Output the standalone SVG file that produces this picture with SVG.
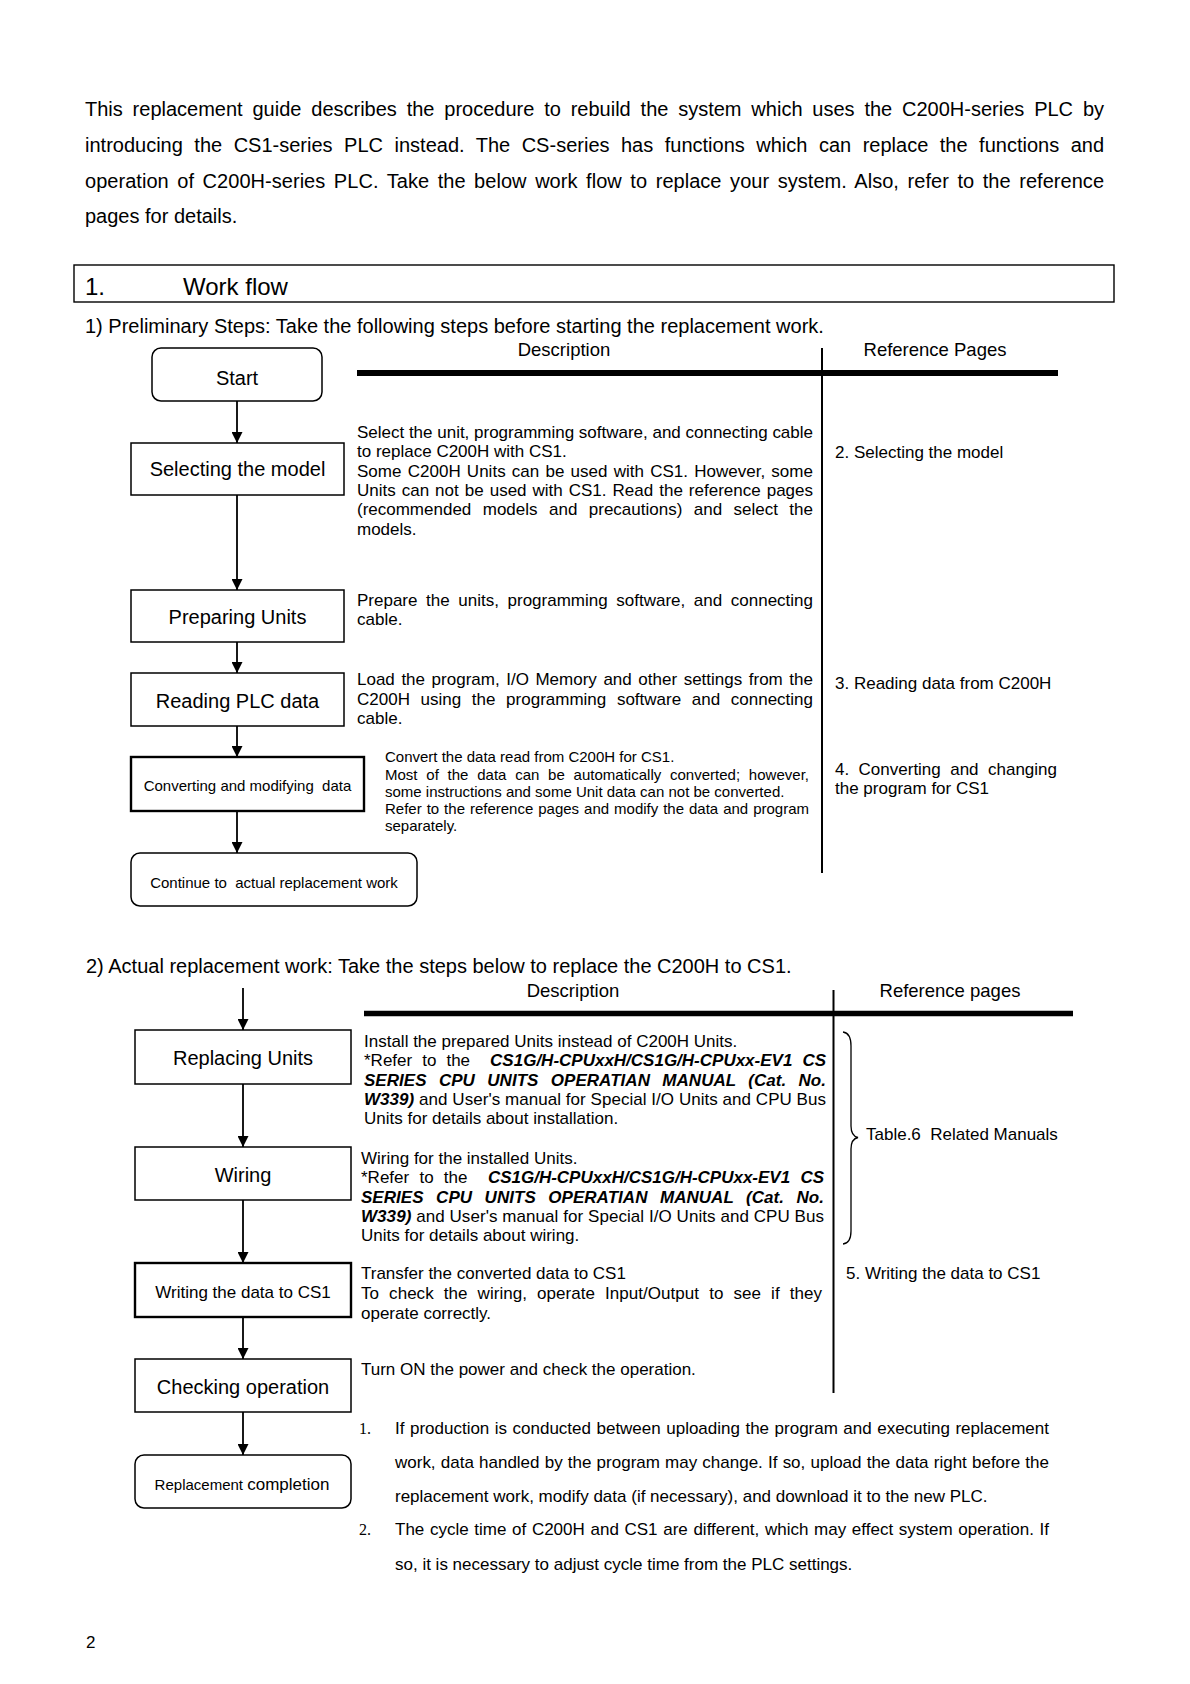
<svg xmlns="http://www.w3.org/2000/svg" width="1190" height="1684" viewBox="0 0 1190 1684">
<style>
text{font-family:"Liberation Sans",Arial,sans-serif;fill:#000}
.p{font-size:20px}
.h{font-size:24px}
.hd{font-size:18.5px}
.d{font-size:17px}
.s{font-size:15px}
.n{font-size:20px;text-anchor:middle}
.bi{font-weight:bold;font-style:italic}
.box{fill:#fff;stroke:#000;stroke-width:1.5}
.tbox{fill:#fff;stroke:#000;stroke-width:2.4}
.ln{stroke:#000;stroke-width:1.8;fill:none}
.serif{font-family:"Liberation Serif","Times New Roman",serif;font-size:16px}
</style>
<defs>
<marker id="ah" markerUnits="userSpaceOnUse" markerWidth="11" markerHeight="11" refX="11" refY="5.5" orient="auto">
<path d="M0,0 L11,5.5 L0,11 z" fill="#000"/>
</marker>
</defs>
<rect width="1190" height="1684" fill="#fff"/>

<g id="intro">
<text class="p" x="85" y="116" word-spacing="4.28" textLength="1019" lengthAdjust="spacing">This replacement guide describes the procedure to rebuild the system which uses the C200H-series PLC by</text>
<text class="p" x="85" y="152" word-spacing="5.93" textLength="1019" lengthAdjust="spacing">introducing the CS1-series PLC instead. The CS-series has functions which can replace the functions and</text>
<text class="p" x="85" y="188" word-spacing="2.99" textLength="1019" lengthAdjust="spacing">operation of C200H-series PLC. Take the below work flow to replace your system. Also, refer to the reference</text>
<text class="p" x="85" y="223">pages for details.</text>
</g>

<g id="title">
<rect x="74" y="265" width="1040" height="37" fill="none" stroke="#000" stroke-width="1.4"/>
<text class="h" x="85" y="295">1.</text>
<text class="h" x="183" y="295">Work flow</text>
</g>

<g id="section1-table">
<text class="p" x="85" y="333">1) Preliminary Steps: Take the following steps before starting the replacement work.</text>
<text class="hd" x="564" y="356" text-anchor="middle">Description</text>
<text class="hd" x="935" y="356" text-anchor="middle">Reference Pages</text>
<line x1="357" y1="373" x2="1058" y2="373" stroke="#000" stroke-width="6"/>
<line x1="822" y1="348" x2="822" y2="873" stroke="#000" stroke-width="2"/>

<text class="d" x="357" y="438" textLength="456" lengthAdjust="spacing">Select the unit, programming software, and connecting cable</text>
<text class="d" x="357" y="457.3">to replace C200H with CS1.</text>
<text class="d" x="357" y="476.6" word-spacing="1.43" textLength="456" lengthAdjust="spacing">Some C200H Units can be used with CS1. However, some</text>
<text class="d" x="357" y="496" word-spacing="1.28" textLength="456" lengthAdjust="spacing">Units can not be used with CS1. Read the reference pages</text>
<text class="d" x="357" y="515.3" word-spacing="6.72" textLength="456" lengthAdjust="spacing">(recommended models and precautions) and select the</text>
<text class="d" x="357" y="534.6">models.</text>
<text class="d" x="835" y="458">2. Selecting the model</text>

<text class="d" x="357" y="606" word-spacing="3.87" textLength="456" lengthAdjust="spacing">Prepare the units, programming software, and connecting</text>
<text class="d" x="357" y="625">cable.</text>

<text class="d" x="357" y="685" word-spacing="1.85" textLength="456" lengthAdjust="spacing">Load the program, I/O Memory and other settings from the</text>
<text class="d" x="357" y="704.5" word-spacing="5.92" textLength="456" lengthAdjust="spacing">C200H using the programming software and connecting</text>
<text class="d" x="357" y="724">cable.</text>
<text class="d" x="835" y="689">3. Reading data from C200H</text>

<text class="s" x="385" y="762">Convert the data read from C200H for CS1.</text>
<text class="s" x="385" y="780" word-spacing="4.54" textLength="424" lengthAdjust="spacing">Most of the data can be automatically converted; however,</text>
<text class="s" x="385" y="797">some instructions and some Unit data can not be converted.</text>
<text class="s" x="385" y="814" word-spacing="0.79" textLength="424" lengthAdjust="spacing">Refer to the reference pages and modify the data and program</text>
<text class="s" x="385" y="831">separately.</text>
<text class="d" x="835" y="775" word-spacing="4.7" textLength="222" lengthAdjust="spacing">4. Converting and changing</text>
<text class="d" x="835" y="793.5">the program for CS1</text>
</g>

<g id="connectors">
<line class="ln" x1="237" y1="401" x2="237" y2="443" marker-end="url(#ah)"/>
<line class="ln" x1="237" y1="495" x2="237" y2="590" marker-end="url(#ah)"/>
<line class="ln" x1="237" y1="642" x2="237" y2="673" marker-end="url(#ah)"/>
<line class="ln" x1="237" y1="726" x2="237" y2="757" marker-end="url(#ah)"/>
<line class="ln" x1="237" y1="811" x2="237" y2="853" marker-end="url(#ah)"/>
<line class="ln" x1="243" y1="988" x2="243" y2="1030" marker-end="url(#ah)"/>
<line class="ln" x1="243" y1="1084" x2="243" y2="1147" marker-end="url(#ah)"/>
<line class="ln" x1="243" y1="1200" x2="243" y2="1263" marker-end="url(#ah)"/>
<line class="ln" x1="243" y1="1317" x2="243" y2="1359" marker-end="url(#ah)"/>
<line class="ln" x1="243" y1="1412" x2="243" y2="1455" marker-end="url(#ah)"/>
</g>

<g id="node-start">
<rect class="box" x="152" y="348" width="170" height="53" rx="9"/>
<text class="n" x="237" y="385">Start</text>
</g>
<g id="node-selecting">
<rect class="box" x="131" y="443" width="213" height="52"/>
<text class="n" x="237.5" y="476">Selecting the model</text>
</g>
<g id="node-preparing">
<rect class="box" x="131" y="590" width="213" height="52"/>
<text class="n" x="237.5" y="624">Preparing Units</text>
</g>
<g id="node-reading">
<rect class="box" x="131" y="673" width="213" height="53"/>
<text class="n" x="237.5" y="708">Reading PLC data</text>
</g>
<g id="node-converting">
<rect class="tbox" x="131" y="757" width="233" height="54"/>
<text class="s" x="247.5" y="791" text-anchor="middle" xml:space="preserve">Converting and modifying  data</text>
</g>
<g id="node-continue">
<rect class="box" x="131" y="853" width="286" height="53" rx="9"/>
<text class="s" x="274" y="888" text-anchor="middle" xml:space="preserve">Continue to  actual replacement work</text>
</g>

<g id="section2-table">
<text class="p" x="86" y="973">2) Actual replacement work: Take the steps below to replace the C200H to CS1.</text>
<text class="hd" x="573" y="997" text-anchor="middle">Description</text>
<text class="hd" x="950" y="997" text-anchor="middle">Reference pages</text>
<line x1="364" y1="1013.5" x2="1073" y2="1013.5" stroke="#000" stroke-width="5.5"/>
<line x1="833.5" y1="990" x2="833.5" y2="1393" stroke="#000" stroke-width="2"/>

<text class="d" x="364" y="1047">Install the prepared Units instead of C200H Units.</text>
<text class="d" x="364" y="1066" word-spacing="5.3" textLength="462" lengthAdjust="spacing" xml:space="preserve">*Refer to the  <tspan class="bi">CS1G/H-CPUxxH/CS1G/H-CPUxx-EV1 CS</tspan></text>
<text class="d bi" x="364" y="1085.5" word-spacing="7.58" textLength="462" lengthAdjust="spacing">SERIES CPU UNITS OPERATIAN MANUAL (Cat. No.</text>
<text class="d" x="364" y="1105" textLength="462" lengthAdjust="spacing"><tspan class="bi">W339)</tspan> and User's manual for Special I/O Units and CPU Bus</text>
<text class="d" x="364" y="1124">Units for details about installation.</text>

<text class="d" x="361" y="1164">Wiring for the installed Units.</text>
<text class="d" x="361" y="1183" word-spacing="5.5" textLength="463" lengthAdjust="spacing" xml:space="preserve">*Refer to the  <tspan class="bi">CS1G/H-CPUxxH/CS1G/H-CPUxx-EV1 CS</tspan></text>
<text class="d bi" x="361" y="1202.5" word-spacing="7.75" textLength="463" lengthAdjust="spacing">SERIES CPU UNITS OPERATIAN MANUAL (Cat. No.</text>
<text class="d" x="361" y="1222" textLength="463" lengthAdjust="spacing"><tspan class="bi">W339)</tspan> and User's manual for Special I/O Units and CPU Bus</text>
<text class="d" x="361" y="1241">Units for details about wiring.</text>

<path d="M843,1032 Q851,1033 851,1046 L851,1126 Q851,1136 858,1137.5 Q851,1139 851,1149 L851,1231 Q851,1243 843,1244" fill="none" stroke="#000" stroke-width="1.3"/>
<text class="d" x="866" y="1140" xml:space="preserve">Table.6  Related Manuals</text>

<text class="d" x="361" y="1279">Transfer the converted data to CS1</text>
<text class="d" x="361" y="1299" word-spacing="5.34" textLength="461" lengthAdjust="spacing">To check the wiring, operate Input/Output to see if they</text>
<text class="d" x="361" y="1319">operate correctly.</text>
<text class="d" x="846" y="1279">5. Writing the data to CS1</text>

<text class="d" x="361" y="1375">Turn ON the power and check the operation.</text>
</g>

<g id="node-replacing">
<rect class="box" x="135" y="1030" width="216" height="54"/>
<text class="n" x="243" y="1065">Replacing Units</text>
</g>
<g id="node-wiring">
<rect class="box" x="135" y="1147" width="216" height="53"/>
<text class="n" x="243" y="1182">Wiring</text>
</g>
<g id="node-writing">
<rect class="tbox" x="135" y="1263" width="216" height="54"/>
<text x="243" y="1298" font-size="17" text-anchor="middle">Writing the data to CS1</text>
</g>
<g id="node-checking">
<rect class="box" x="135" y="1359" width="216" height="53"/>
<text class="n" x="243" y="1394">Checking operation</text>
</g>
<g id="node-completion">
<rect class="box" x="135" y="1455" width="216" height="53" rx="9"/>
<text x="242" y="1490" text-anchor="middle"><tspan font-size="15">Replacement </tspan><tspan font-size="17">completion</tspan></text>
</g>

<g id="notes">
<text class="serif" x="359" y="1434">1.</text>
<text class="d" x="395" y="1434" word-spacing="0.77" textLength="654" lengthAdjust="spacing">If production is conducted between uploading the program and executing replacement</text>
<text class="d" x="395" y="1468" word-spacing="0.45" textLength="654" lengthAdjust="spacing">work, data handled by the program may change. If so, upload the data right before the</text>
<text class="d" x="395" y="1502">replacement work, modify data (if necessary), and download it to the new PLC.</text>
<text class="serif" x="359" y="1535">2.</text>
<text class="d" x="395" y="1535" word-spacing="0.89" textLength="654" lengthAdjust="spacing">The cycle time of C200H and CS1 are different, which may effect system operation. If</text>
<text class="d" x="395" y="1570">so, it is necessary to adjust cycle time from the PLC settings.</text>
</g>

<text x="86" y="1648" font-size="17">2</text>
</svg>
